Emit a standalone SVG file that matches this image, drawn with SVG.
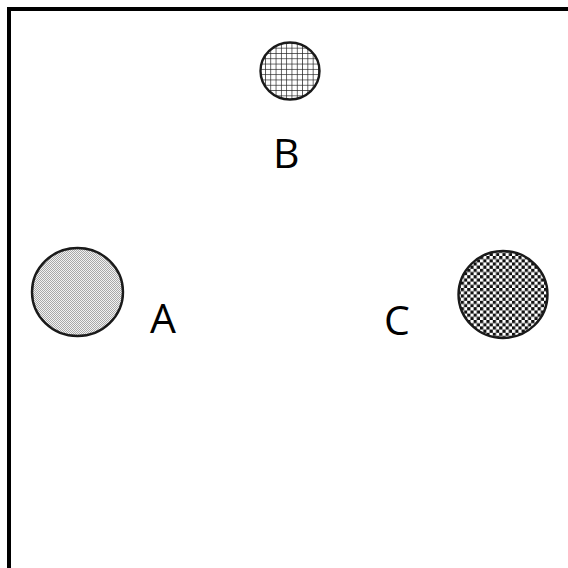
<svg xmlns="http://www.w3.org/2000/svg" width="568" height="568" viewBox="0 0 568 568">
  <style>
    .node-shape { stroke: #1a1a1a; stroke-width: 2.4; }
    .label { font-family: "Open Sans", "Liberation Sans", sans-serif; font-size: 41px; fill: #000; }
  </style>
  <defs>
    <!-- fine light-grey stipple -->
    <pattern id="dots" width="2" height="2" patternUnits="userSpaceOnUse">
      <rect width="2" height="2" fill="#f2f2f2"/>
      <rect x="0" y="0" width="1" height="1" fill="#a8a8a8"/>
      <rect x="1" y="1" width="1" height="1" fill="#a8a8a8"/>
    </pattern>
    <!-- square grid hatch -->
    <pattern id="grid" width="5.3" height="5.3" patternUnits="userSpaceOnUse">
      <rect width="5.3" height="5.3" fill="#fff"/>
      <path d="M0 0H5.3M0 0V5.3" stroke="#222" stroke-width="1.4" fill="none"/>
    </pattern>
    <!-- checkerboard -->
    <pattern id="checker" width="6.4" height="6.4" patternUnits="userSpaceOnUse">
      <rect width="6.4" height="6.4" fill="#fff"/>
      <rect x="0" y="0" width="3.2" height="3.2" fill="#111"/>
      <rect x="3.2" y="3.2" width="3.2" height="3.2" fill="#111"/>
    </pattern>
  </defs>

  <rect width="568" height="568" fill="#fff"/>
  <!-- open frame running off the right and bottom edges -->
  <path d="M9 572V9H572" fill="none" stroke="#000" stroke-width="4"/>

  <g id="connectors"/>

  <g id="node-A">
    <ellipse class="node-shape" cx="77.5" cy="292" rx="45.5" ry="44" fill="url(#dots)"/>
    <text class="label" x="150" y="333">A</text>
  </g>
  <g id="node-B">
    <ellipse class="node-shape" cx="290" cy="71" rx="29.5" ry="28.5" fill="url(#grid)"/>
    <text class="label" x="273" y="168">B</text>
  </g>
  <g id="node-C">
    <ellipse class="node-shape" cx="503" cy="294.5" rx="44.5" ry="43.5" fill="url(#checker)"/>
    <text class="label" x="384" y="335">C</text>
  </g>
</svg>
